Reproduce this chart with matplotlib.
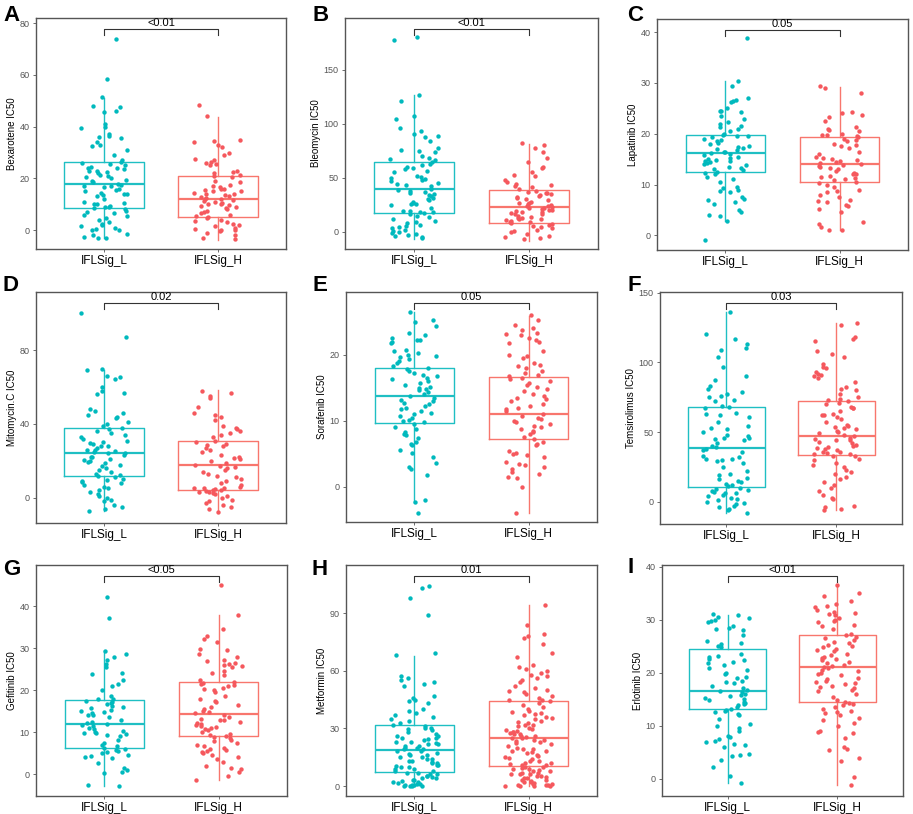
import numpy as np
import matplotlib.pyplot as plt
import matplotlib.transforms as mtransforms

plt.rcParams['font.family'] = ['Liberation Sans', 'DejaVu Sans']

groups = ['IFLSig_L', 'IFLSig_H']
drugs = ['Bexarotene', 'Bleomycin', 'Lapatinib', 'Mitomycin.C', 'Sorafenib',
         'Temsirolimus', 'Gefitinib', 'Metformin', 'Erlotinib']
letters = ['A', 'B', 'C', 'D', 'E', 'F', 'G', 'H', 'I']
p_values = ['<0.01', '<0.01', '0.05', '0.02', '0.05', '0.03', '<0.05', '0.01', '<0.01']

# box stats: whisker low, q1, median, q3, whisker high
box_L = [
    [-3.2, 8.4, 17.7, 26.2, 50.9],
    [-6.5, 17.5, 39.6, 64.4, 126.7],
    [2.8, 12.4, 16.2, 19.8, 30.3],
    [-7.4, 11.7, 24.5, 38.0, 69.2],
    [-2.2, 9.7, 13.8, 18.0, 26.5],
    [-8.3, 10.5, 38.7, 67.9, 136.0],
    [-2.8, 6.3, 12.0, 17.6, 29.4],
    [0.0, 7.5, 18.8, 31.8, 67.9],
    [-0.8, 13.1, 16.5, 24.5, 30.9],
]
box_H = [
    [-3.9, 5.0, 11.9, 21.0, 43.6],
    [-8.7, 8.4, 23.3, 38.9, 81.0],
    [1.0, 10.4, 14.0, 19.3, 29.3],
    [-7.9, 4.3, 18.0, 30.8, 58.4],
    [-3.9, 7.3, 11.0, 16.7, 25.8],
    [-6.0, 33.2, 47.1, 72.0, 127.9],
    [-1.5, 9.0, 14.4, 22.0, 38.0],
    [0.0, 10.4, 24.9, 44.3, 94.3],
    [-1.3, 14.5, 21.1, 27.0, 36.5],
]

bexarotene_L = [74, 58.5, 51.5, 48, 47.5, 46, 45.5, 41, 40, 39.5, 37, 36.5, 36, 35.5, 34, 33,
                32.5, 31, 29, 27, 26.5, 26, 25.5, 25, 24.5, 24, 24, 23.5, 23, 23, 22.5, 22,
                21.5, 21, 20.5, 20, 19.5, 19, 18.5, 18, 17.5, 17, 17, 16.5, 16, 15.5, 15, 14.5,
                14, 14, 13.5, 13, 12, 11, 10.5, 10, 10, 9.5, 9, 9, 8.5, 8, 7.5, 7, 6.5, 6, 5.5,
                4.5, 4, 3, 2.5, 2, 1.5, 1, 0.5, 0, 0, -1.5, -2, -2.5, -3, -3]
bexarotene_H = [48.5, 44, 35, 34.5, 34, 33, 32, 30, 29, 27.5, 27, 26.5, 26, 25.5, 25, 23, 22.5,
                22, 21.5, 21, 20.5, 19, 18.5, 17, 16.5, 16, 15.5, 15, 15, 14.5, 14, 13.5, 13,
                12.5, 12, 12, 11.5, 11, 10.5, 10, 9.5, 9, 8.5, 8, 7.5, 7, 6.5, 6, 5.5, 5, 4.5,
                4, 3.5, 3, 2.5, 2, 1.5, 1, 0.5, 0, 0, -0.5, -1, -2, -3, -3.5, 15.8, 12.8, 10.2,
                17.5, 9.8, 13.8, 11.2]
bleomycin_L = [180, 178, 127, 121, 107, 104, 96, 93, 91, 89, 88, 84, 78, 76, 75, 74, 70, 68, 67,
               66, 65, 63, 62, 60, 59, 58, 56, 55, 52, 50, 49, 48, 47, 45, 43, 42, 40, 39, 38,
               37, 36, 34, 33, 31, 30, 29, 28, 27, 26, 26, 25, 22, 19, 18, 18, 17, 16, 15, 14,
               12, 10, 9, 8, 6, 5, 4, 3, 2, 1, 0, -1, -2, -3, -4, -5, -6, 44, 51, 35, 19]
bleomycin_H = [82, 80, 78, 74, 68, 65, 60, 59, 55, 53, 52, 48, 46, 44, 43, 42, 41, 40, 38, 37,
               36, 35, 34, 33, 31, 30, 29, 28, 27, 26, 25, 24, 23, 22, 21, 20, 19, 18, 17, 16,
               15, 14, 13, 12, 11, 10, 9, 8, 7, 6, 5, 4, 3, 2, 1, 0, -2, -4, -5, -6, -7, 32, 27,
               24, 20, 16, 13, 12, 9, 36, 22, 18]
lapatinib_L = [38.8, 30.4, 29.5, 27, 26.6, 26.5, 26.2, 25, 24.5, 24.4, 24.2, 23.4, 23, 22.4, 22,
               21.6, 21.4, 21, 20.5, 20, 19.8, 19.5, 19.3, 19, 18.7, 18.5, 18.2, 18, 17.5, 17.2,
               17, 16.8, 16.5, 16.3, 16, 15.8, 15.5, 15.2, 15, 14.8, 14.6, 14.4, 14.2, 14, 13.8,
               13.5, 13.2, 13, 12.8, 12.5, 12.3, 12, 11.5, 11, 10.5, 9.5, 9.3, 9, 8.8, 8.5, 7.5,
               7.2, 7, 6.5, 6.2, 5, 4.5, 4, 3.8, 2.8, -1, 16.4, 14.7, 17.4, 19.6]
lapatinib_H = [29.4, 29, 28, 24.3, 24, 23.6, 23.3, 22.5, 21.3, 21, 20.8, 20.5, 20, 19.8, 19.5,
               19.3, 19, 18.5, 18, 17.6, 17.2, 16.5, 16, 15.5, 15, 14.8, 14.5, 14.2, 14, 13.8,
               13.5, 13.2, 13, 12.6, 12.3, 12, 11.7, 11.5, 11.2, 11, 10.8, 10.5, 10.2, 10, 9.5,
               9, 8.8, 8.5, 8, 7.6, 7, 6.8, 6.5, 6, 5.8, 5.2, 4.6, 2.6, 2.3, 1.7, 1.1, 1.0, 17.8,
               15.3, 13.6, 12.1, 18.8, 14.6, 19.7]
mitomycin_L = [100, 87, 70, 69, 66, 65.5, 64.5, 60, 58, 57, 56, 48, 47, 46, 45, 44, 43, 41, 40,
               39, 38, 37, 36, 35, 34, 33, 32, 31, 30, 29, 28, 27, 26, 25.5, 25, 24, 23, 22, 21,
               20, 19.5, 19, 18, 17, 16, 15, 14, 13, 12, 11, 10, 9, 8.5, 8, 7, 6, 5, 4, 3, 2, 1,
               0, -1, -2, -4, -5, -6, -7, 28, 26, 22, 20.5, 29.5, 24.5, 12.5, 9.5]
mitomycin_H = [58, 57, 55, 54, 49, 46, 45, 44, 42, 39, 38, 37, 36, 35, 34, 33, 31, 30, 29, 28,
               27, 26, 25, 23, 22, 21, 20, 19, 18, 17, 16, 15, 14, 13, 12, 11, 10, 9, 8, 7, 6,
               5.5, 5, 4.5, 4, 3.5, 3, 2.5, 2, 1, 0, -1, -2, -3, -4, -5, -6, -8, 4.2, 3.2, 5.2,
               16.5, 21.5, 28.5]
sorafenib_L = [26.5, 25.3, 25, 24.3, 23.3, 23, 22.6, 22.3, 22.2, 22, 21.8, 20.8, 20.5, 20.3, 20,
               19.8, 19.6, 19.3, 19, 18.8, 18.3, 18, 17.8, 17.5, 17.3, 17, 16.8, 16.5, 16.3, 16,
               15.7, 15.4, 15.2, 15, 14.8, 14.6, 14.3, 14, 13.8, 13.5, 13.2, 13, 12.7, 12.5,
               12.2, 12, 11.8, 11.5, 11.2, 11, 10.8, 10.5, 10.2, 10, 9.8, 9.5, 9, 8.7, 8.3, 8,
               7.8, 7.4, 6.8, 6.5, 6.3, 5.6, 5.2, 4.6, 3.7, 3, 2.7, 1.8, -2, -2.2, -4]
sorafenib_H = [26, 25.3, 24.5, 24, 23.8, 23.3, 23.2, 23, 22.5, 22.2, 22, 21.8, 20.6, 20, 19.8,
               19.5, 18.8, 18.5, 18.3, 18, 17.5, 17.3, 17, 16.8, 16.5, 16.3, 16, 15.8, 15.5,
               15.2, 14.8, 14.5, 14, 13.8, 13.5, 13.3, 13, 12.5, 12.2, 12, 11.8, 11.5, 11, 10.8,
               10.5, 10.3, 10, 9.8, 9.5, 9.3, 9, 8.8, 8.5, 8.3, 8, 7.5, 7.2, 6.8, 6.5, 6.3, 5.5,
               5.2, 5, 4.8, 4.5, 3.8, 3.5, 3.3, 3, 2.7, 2.2, 2, 1.5, 1.3, 0, -3.9]
temsirolimus_L = [136, 120, 117, 113, 110, 109, 104, 97, 90, 87, 83, 81, 79, 77, 76, 75, 73, 72,
                  69, 68, 67, 64, 63, 62, 61, 57, 54, 53, 52, 50, 48, 47, 46, 45, 44, 42, 40, 39,
                  38, 37, 36, 33, 32, 31, 30, 29, 28, 25, 22, 20, 19, 17, 16, 15, 14, 13, 12, 11,
                  10, 9, 8, 7, 6, 5, 4, 3, 2, 1, 0, -1, -2, -3, -4, -5, -6, -8, 45.5, 30.5, 8.5,
                  6.5]
temsirolimus_H = [128, 127, 118, 117, 115, 108, 106, 104, 99, 97, 96, 93, 92, 91, 90, 89, 86, 82,
                  81, 80, 77, 75, 74, 73, 72, 71, 70, 68, 67, 65, 63, 62, 61, 59, 57, 55, 54, 53,
                  52, 51, 50, 49, 48, 47, 46, 45, 44, 43, 42, 41, 40, 39, 38, 37, 36, 35, 34, 33,
                  33, 31, 30, 28, 26, 25, 23, 21, 20, 18, 16, 14, 12, 10, 8, 5, 3, 2, -3, -4, -5,
                  -6, 67.5, 62.5, 53.5, 44.5, 38.5, 35.5, 34.5]
gefitinib_L = [42.2, 37.2, 29.4, 28.5, 28, 27.2, 26.2, 25.5, 24.2, 23.8, 22.5, 21.5, 21, 20,
               18.5, 18, 17.8, 17.5, 17.2, 17, 16.7, 16.3, 16, 15.7, 15.2, 15, 14.7, 14.5, 14,
               13.5, 13, 12.5, 12.2, 12, 11.8, 11.5, 11, 10.7, 10.2, 10, 9.8, 9.5, 9.3, 9, 8.2,
               7.5, 7, 6.8, 6.3, 6, 5.8, 5.5, 5.2, 5, 4.5, 4.3, 4, 3.8, 2.6, 1.5, 1, 0.5, 0.3,
               -2.5, -2.7, 9.7, 14.2]
gefitinib_H = [45, 38, 34.5, 33, 32.3, 31.5, 29.8, 29.5, 28.5, 28, 27.3, 27, 26.5, 26.2, 26,
               25.8, 25.5, 24.5, 24, 23.5, 22.5, 22, 21.8, 21.5, 21.2, 21, 20.5, 20.2, 20, 19.5,
               18.5, 18, 17.5, 17.2, 16.5, 16, 15.5, 15, 14.8, 14.5, 14, 13.5, 13.2, 13, 12.8,
               12.5, 12.2, 12, 11.8, 11.5, 11.2, 11, 10.8, 10.5, 10, 9.5, 9.3, 9, 8.8, 8.5, 8.2,
               8, 7.5, 7, 6.7, 6.2, 6, 5.8, 5.5, 5.2, 5, 4.5, 4, 3.5, 3, 2, 1.5, 1.3, 0.5, -0.5,
               -1.5]
metformin_L = [104, 103, 98, 89, 69, 68, 57, 56, 55, 54, 53, 52, 47, 46, 45, 44, 43, 40, 39, 38,
               37, 36, 35, 34, 33, 32, 31, 30, 30, 29, 28, 27, 26, 26, 25, 25, 24, 23, 23, 22, 22,
               21, 21, 20, 20, 19, 19, 18, 18, 17, 16, 16, 15, 15, 14, 14, 13, 13, 12, 12, 11,
               11, 10, 10, 9, 9, 8, 8, 7, 7, 6, 6, 5, 5, 4, 4, 3, 3, 2, 2, 1, 1, 0.5, 0.3, 0, 0,
               0, 0, 29.5, 24.5, 22.5, 16.5, 12.5, 10.5, 4.5, 2.5, 1.5, 0.5]
metformin_H = [94, 84, 79, 78, 77, 74, 69, 67, 63, 62, 61, 60, 59, 58, 57, 56, 55, 54, 52, 51,
               50, 49, 48, 47, 46, 45, 44, 43, 42, 41, 40, 39, 38, 37, 36, 35, 34, 33, 32, 31,
               30, 29, 28, 28, 27, 27, 26, 26, 25, 25, 24, 24, 23, 22, 21, 20, 19, 18, 18, 17,
               16, 15, 14, 13, 13, 12, 12, 11, 11, 10, 10, 9, 9, 8, 8, 7, 7, 6, 6, 5, 5, 4, 4, 3,
               3, 2, 2, 1, 1, 0.5, 0.3, 0, 0, 0, 0, 49.5, 44.5, 38.5, 35.5, 33.5, 31.5, 29.5,
               27.5, 25.5, 22.5, 19.5, 17.5, 14.5, 11.5, 8.5, 6.5, 4.5, 2.5, 1.5, 0.5, 37.5,
               28.5, 23.5, 15.5, 9.5]
erlotinib_L = [31, 30.8, 30.5, 30.3, 30, 29.8, 29.5, 28.8, 28.5, 28.3, 28, 27, 26, 25.5, 25.3,
               25, 24.8, 23.5, 23.2, 23, 22.5, 22.3, 22, 21.8, 21.5, 20.8, 20.5, 20, 19.8, 19.2,
               19, 18.5, 18.3, 18, 17.5, 17, 16.8, 16.5, 16.3, 16, 15.8, 15.5, 15.2, 15, 14.8,
               14.5, 14.2, 14, 13.8, 13.5, 13.2, 13, 12.8, 12.5, 12.2, 12, 11.3, 10.3, 10, 9.5,
               9, 8, 7.8, 7.5, 7, 6.8, 6.5, 6.3, 6, 4.7, 4.5, 4.3, 3.5, 2.2, 0.5, -0.8]
erlotinib_H = [36.5, 35, 34.5, 33.5, 33, 32.5, 32.3, 31.8, 31.5, 31.3, 31, 30.8, 30.3, 30, 29.8,
               29.5, 29, 28.7, 28.3, 27.3, 27, 26.8, 26.5, 26.2, 25.8, 25.5, 25.2, 25, 24.8,
               24.5, 24.2, 24, 23.5, 23.3, 23, 22.8, 22.5, 22.3, 22, 21.8, 21.5, 21.3, 21, 20.8,
               20.5, 20.3, 20, 19.8, 19.5, 19, 18.8, 18.5, 18.3, 18, 17.8, 17.5, 17.2, 17, 16.8,
               16.5, 16, 15.3, 14.8, 14.5, 14.2, 14, 13.8, 13.5, 13.2, 12.8, 12.5, 12.3, 12,
               11.5, 11, 10.5, 10, 9, 8.8, 8.5, 7.7, 6, 5.3, 5.5, 3.8, 3.3, 0.3, -1.3]

values_L = [bexarotene_L, bleomycin_L, lapatinib_L, mitomycin_L, sorafenib_L,
            temsirolimus_L, gefitinib_L, metformin_L, erlotinib_L]
values_H = [bexarotene_H, bleomycin_H, lapatinib_H, mitomycin_H, sorafenib_H,
            temsirolimus_H, gefitinib_H, metformin_H, erlotinib_H]

ylims = [(-7.3, 82), (-16, 198), (-2.9, 42.6), (-13.7, 111.5), (-5.3, 29.5),
         (-16, 150.5), (-5.2, 49.8), (-5.2, 115), (-3.3, 40.3)]
yticks = [[0, 20, 40, 60, 80], [0, 50, 100, 150], [0, 10, 20, 30, 40], [0, 40, 80],
          [0, 10, 20], [0, 50, 100, 150], [0, 10, 20, 30, 40], [0, 30, 60, 90],
          [0, 10, 20, 30, 40]]

# axes rectangles in pixels: left, top, right, bottom
W, H = 913, 814
rects = [(36, 18, 286, 249), (345, 18, 598, 249), (657, 19, 908, 250),
         (36, 292, 286, 523), (346, 292, 597, 522), (660, 292, 902, 524),
         (36, 565, 287, 796), (346, 565, 597, 796), (662, 565, 903, 796)]
letter_pos = [(3, 5), (312, 5), (627, 5), (3, 275), (312, 275), (627, 275),
              (3, 559), (311, 559), (627, 557)]

box_colors = ['#1FBFC3', '#F8766D']
point_colors = ['#00B9BD', '#F5585D']


def jitter(n, seed):
    # scattered x offsets for the jittered points (position only)
    i = np.arange(n) + seed
    h = np.sin(i * 12.9898 + seed * 78.233) * 43758.5453
    return ((h - np.floor(h)) - 0.5) * 0.42


fig = plt.figure(figsize=(W / 100, H / 100), dpi=100)

for k in range(9):
    l, t, r, b = rects[k]
    ax = fig.add_axes([l / W, 1 - b / H, (r - l) / W, (b - t) / H])
    for g, (vals, st) in enumerate([(values_L[k], box_L[k]), (values_H[k], box_H[k])]):
        pos = g + 1
        stats = [dict(whislo=st[0], q1=st[1], med=st[2], q3=st[3], whishi=st[4])]
        c = box_colors[g]
        ax.bxp(stats, positions=[pos], widths=0.7, showcaps=False, showfliers=False,
               boxprops=dict(color=c, linewidth=1.0),
               whiskerprops=dict(color=c, linewidth=1.0),
               medianprops=dict(color=c, linewidth=1.6))
        offs = jitter(len(vals), 7 * k + 3 * g + 1)
        ax.scatter(pos + offs, vals, s=10, color=point_colors[g], linewidths=0, zorder=3)

    ax.set_xlim(0.4, 2.6)
    ax.set_ylim(*ylims[k])
    ax.set_yticks(yticks[k])
    ax.set_xticks([1, 2])
    ax.set_xticklabels(groups, fontsize=8.5, color='black')
    ax.tick_params(axis='y', labelsize=6.5, labelcolor='#555555', length=2.5,
                   width=0.6, color='#555555', pad=2)
    ax.tick_params(axis='x', length=2.5, width=0.6, color='#555555', pad=2)
    for sp in ax.spines.values():
        sp.set_color('#555555')
        sp.set_linewidth(1.0)
    ax.set_ylabel(drugs[k] + ' IC50', fontsize=7, labelpad=2)

    # significance bracket
    trans = mtransforms.blended_transform_factory(ax.transData, ax.transAxes)
    ax.plot([1, 1, 2, 2], [0.926, 0.952, 0.952, 0.926], color='#333333',
            linewidth=0.8, transform=trans, clip_on=False)
    ax.text(1.5, 0.958, p_values[k], transform=trans, ha='center', va='bottom',
            fontsize=8, color='black')

    lx, ly = letter_pos[k]
    fig.text(lx / W, 1 - ly / H, letters[k], fontsize=16, fontweight='bold',
             ha='left', va='top')

fig.savefig('out.png', dpi=100)
